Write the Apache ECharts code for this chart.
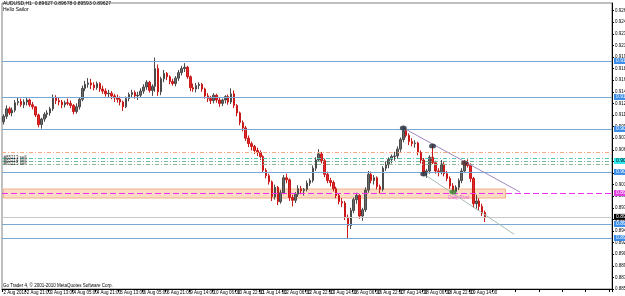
<!DOCTYPE html>
<html><head><meta charset="utf-8">
<script src="https://cdn.jsdelivr.net/npm/echarts@6/dist/echarts.min.js"></script>
<style>html,body{margin:0;padding:0;background:#fff}#c{width:625px;height:296px}</style>
</head><body><div id="c"></div>
<script>
// ---- data (AUDUSD, 2-hour bars) ----
const tickLabels = ['2 Aug 2010','2 Aug 21:00','3 Aug 13:00','4 Aug 05:00','4 Aug 21:00','5 Aug 13:00','6 Aug 05:00','6 Aug 21:00','9 Aug 14:00','10 Aug 06:00','10 Aug 22:00','11 Aug 14:00','12 Aug 06:00','12 Aug 22:00','13 Aug 14:00','16 Aug 06:00','16 Aug 22:00','17 Aug 14:00','18 Aug 06:00','18 Aug 22:00','19 Aug 14:00'];
const barsPerTick = 8;
const totalSlots = 209;

const open = [0.9102,0.9110,0.9121,0.9115,0.9119,0.9130,0.9132,0.9127,0.9131,0.9134,0.9127,0.9124,0.9112,0.9098,0.9106,0.9113,0.9115,0.9121,0.9137,0.9133,
0.9131,0.9127,0.9130,0.9129,0.9126,0.9117,0.9124,0.9135,0.9151,0.9157,0.9159,0.9156,0.9152,0.9158,0.9150,0.9147,0.9143,0.9144,0.9140,0.9137,
0.9135,0.9131,0.9124,0.9136,0.9142,0.9145,0.9140,0.9141,0.9147,0.9153,0.9160,0.9148,0.9154,0.9180,0.9146,0.9165,0.9173,0.9168,0.9161,0.9158,
0.9166,0.9174,0.9180,0.9182,0.9168,0.9152,0.9150,0.9155,0.9157,0.9150,0.9140,0.9136,0.9133,0.9141,0.9134,0.9129,0.9134,0.9139,0.9131,0.9143,
0.9126,0.9115,0.9101,0.9093,0.9078,0.9070,0.9066,0.9060,0.9057,0.9051,0.9031,0.9023,0.9014,0.8992,0.9006,0.8985,0.8998,0.9020,0.9017,0.8991,
0.8987,0.8996,0.9004,0.9001,0.9003,0.9012,0.9016,0.9034,0.9046,0.9055,0.9045,0.9025,0.9016,0.9013,0.9004,0.8994,0.8985,0.8983,0.8962,0.8950,
0.8972,0.8988,0.8994,0.8964,0.8973,0.9002,0.9025,0.9016,0.9020,0.9007,0.9003,0.9034,0.9039,0.9047,0.9051,0.9052,0.9062,0.9076,0.9089,0.9082,
0.9073,0.9070,0.9071,0.9057,0.9046,0.9027,0.9030,0.9050,0.9042,0.9030,0.9029,0.9040,0.9026,0.9019,0.9008,0.9000,0.9006,0.9016,0.9030,0.9042,
0.9038,0.9019,0.8982,0.8986,0.8978,0.8969];
const close = [0.9110,0.9121,0.9115,0.9119,0.9130,0.9132,0.9127,0.9131,0.9134,0.9127,0.9124,0.9112,0.9098,0.9106,0.9113,0.9115,0.9121,0.9137,0.9133,0.9131,
0.9127,0.9130,0.9129,0.9126,0.9117,0.9124,0.9135,0.9151,0.9157,0.9159,0.9156,0.9152,0.9158,0.9150,0.9147,0.9143,0.9144,0.9140,0.9137,0.9135,
0.9131,0.9124,0.9136,0.9142,0.9145,0.9140,0.9141,0.9147,0.9153,0.9160,0.9148,0.9154,0.9180,0.9146,0.9165,0.9173,0.9168,0.9161,0.9158,0.9166,
0.9174,0.9180,0.9182,0.9168,0.9152,0.9150,0.9155,0.9157,0.9150,0.9140,0.9136,0.9133,0.9141,0.9134,0.9129,0.9134,0.9139,0.9131,0.9143,0.9126,
0.9115,0.9101,0.9093,0.9078,0.9070,0.9066,0.9060,0.9057,0.9051,0.9031,0.9023,0.9014,0.8992,0.9006,0.8985,0.8998,0.9020,0.9017,0.8991,0.8987,
0.8996,0.9004,0.9001,0.9003,0.9012,0.9016,0.9034,0.9046,0.9055,0.9045,0.9025,0.9016,0.9013,0.9004,0.8994,0.8985,0.8983,0.8962,0.8950,0.8972,
0.8988,0.8994,0.8964,0.8973,0.9002,0.9025,0.9016,0.9020,0.9007,0.9003,0.9034,0.9039,0.9047,0.9051,0.9052,0.9062,0.9076,0.9089,0.9082,0.9073,
0.9070,0.9071,0.9057,0.9046,0.9027,0.9030,0.9050,0.9042,0.9030,0.9029,0.9040,0.9026,0.9019,0.9008,0.9000,0.9006,0.9016,0.9030,0.9042,0.9038,
0.9019,0.8982,0.8986,0.8978,0.8969,0.89627];
const low = [0.9098,0.9106,0.9112,0.9110,0.9116,0.9126,0.9124,0.9122,0.9126,0.9124,0.9120,0.9109,0.9094,0.9092,0.9102,0.9108,0.9111,0.9118,0.9128,0.9126,
0.9122,0.9123,0.9126,0.9122,0.9113,0.9114,0.9120,0.9132,0.9147,0.9152,0.9150,0.9148,0.9149,0.9146,0.9143,0.9139,0.9138,0.9135,0.9131,0.9130,
0.9126,0.9118,0.9122,0.9132,0.9138,0.9136,0.9134,0.9137,0.9143,0.9149,0.9145,0.9140,0.9146,0.9140,0.9141,0.9160,0.9163,0.9157,0.9155,0.9154,
0.9162,0.9170,0.9175,0.9165,0.9147,0.9146,0.9145,0.9150,0.9146,0.9136,0.9131,0.9128,0.9129,0.9130,0.9124,0.9125,0.9129,0.9127,0.9128,0.9122,
0.9110,0.9097,0.9088,0.9074,0.9065,0.9060,0.9055,0.9052,0.9046,0.9027,0.9019,0.9010,0.8986,0.8988,0.8980,0.8982,0.8996,0.9012,0.8986,0.8978,
0.8983,0.8992,0.8996,0.8994,0.9000,0.9008,0.9013,0.9030,0.9043,0.9041,0.9021,0.9012,0.9007,0.9000,0.8990,0.8981,0.8977,0.8958,0.8931,0.8945,
0.8968,0.8982,0.8960,0.8957,0.8970,0.8998,0.9012,0.9010,0.9003,0.8997,0.9000,0.9030,0.9034,0.9041,0.9045,0.9048,0.9058,0.9072,0.9079,0.9068,
0.9066,0.9064,0.9053,0.9041,0.9023,0.9020,0.9026,0.9040,0.9026,0.9022,0.9025,0.9022,0.9015,0.9004,0.8996,0.8996,0.9002,0.9012,0.9027,0.9035,
0.9014,0.8976,0.8975,0.8972,0.8964,0.8955];
const high = [0.9113,0.9126,0.9124,0.9123,0.9134,0.9138,0.9136,0.9135,0.9137,0.9136,0.9131,0.9125,0.9114,0.9108,0.9116,0.9119,0.9124,0.9142,0.9141,0.9138,
0.9134,0.9133,0.9136,0.9133,0.9128,0.9129,0.9138,0.9155,0.9162,0.9166,0.9165,0.9160,0.9161,0.9160,0.9155,0.9151,0.9149,0.9147,0.9143,0.9142,
0.9139,0.9133,0.9139,0.9145,0.9149,0.9148,0.9146,0.9151,0.9157,0.9163,0.9162,0.9157,0.9196,0.9186,0.9168,0.9178,0.9175,0.9170,0.9165,0.9169,
0.9178,0.9184,0.9188,0.9184,0.9170,0.9158,0.9159,0.9160,0.9159,0.9152,0.9144,0.9140,0.9144,0.9143,0.9137,0.9136,0.9141,0.9142,0.9151,0.9148,
0.9128,0.9117,0.9104,0.9096,0.9082,0.9073,0.9068,0.9064,0.9060,0.9053,0.9034,0.9026,0.9016,0.9010,0.9008,0.9002,0.9024,0.9026,0.9019,0.8995,
0.8999,0.9009,0.9008,0.9005,0.9016,0.9019,0.9038,0.9050,0.9062,0.9058,0.9048,0.9029,0.9020,0.9016,0.9007,0.8997,0.8990,0.8986,0.8966,0.8976,
0.8991,0.8998,0.8996,0.8976,0.9006,0.9030,0.9029,0.9024,0.9022,0.9010,0.9037,0.9044,0.9050,0.9054,0.9058,0.9066,0.9079,0.9095,0.9092,0.9085,
0.9078,0.9075,0.9073,0.9060,0.9049,0.9033,0.9053,0.9069,0.9045,0.9034,0.9046,0.9043,0.9030,0.9022,0.9012,0.9009,0.9019,0.9034,0.9046,0.9047,
0.9041,0.9021,0.8995,0.8990,0.8982,0.8972];

// horizontal levels
const blueLevels = [0.91911, 0.91384, 0.90915, 0.90285, 0.89523, 0.89317];
const orderLevels = [0.90490, 0.90446, 0.90402];
const orderNames = ['#85213 sell', '#85214 sell', '#85215 sell'];
const orangeLevel = 0.90578;
const pivotLevel = 0.89977;
const bidLevel = 0.89627;
const bandTop = 0.90035, bandBottom = 0.89903, bandEndBar = 172;
// trend lines and swing markers: [bar index, price]
const upperTrend = [[137, 0.9093], [177, 0.8999]];
const lowerTrend = [[144, 0.90255], [175, 0.89371]];
const swingPoints = [[137, 0.9093], [147, 0.90665], [144, 0.90255], [158, 0.90416], [154, 0.8999]];
const swingColors = ['#1e2a38', '#1e2a38', '#1e2a38', '#5a2a2a', '#3a8a3a'];
const pivotText = [[156, 0.8991]];

// ---- build ----
const cats = [];
for (let i = 0; i < totalSlots; i++) cats.push(String(i));
const candles = open.map((o, i) => [o, close[i], low[i], high[i]]);
const F = 'Liberation Sans, Arial, sans-serif';

function lvlLabel(bg, fg) {
  return {show: true, position: 'end', distance: 2, fontSize: 5, fontFamily: F,
    color: fg, backgroundColor: bg, padding: [1, 2, 0, 2],
    formatter: p => Number(p.value).toFixed(5)};
}
function hLine(v, color, type, label) {
  return {yAxis: v, lineStyle: {color: color, width: 1, type: type, opacity: 1}, label: label || {show: false}};
}
const levelLines = [];
blueLevels.forEach(v => levelLines.push(hLine(v, '#79a7d3', 'solid', lvlLabel('#3d8ee8', '#fff'))));
levelLines.push(hLine(orangeLevel, '#f0b080', [4, 2, 1, 2]));
const orderColors = ['#50c8b8', '#70b8a0', '#90b890'];
orderLevels.forEach((v, i) => levelLines.push(hLine(v, orderColors[i], [4, 2, 1, 2], i === 1 ? lvlLabel('#2ee6ee', '#000') : null)));
levelLines.push(hLine(bidLevel, '#c8c8c8', 'solid', lvlLabel('#000', '#fff')));

const chart = echarts.init(document.getElementById('c'), null, {renderer: 'canvas'});
chart.setOption({
  animation: false,
  backgroundColor: '#fff',
  title: [
    {text: 'AUDUSD,H1  0.89627 0.89678 0.89593 0.89627', left: 3, top: 1, padding: 0, textStyle: {fontSize: 5, fontWeight: 'normal', color: '#000', fontFamily: F}},
    {text: 'Hello Sailor', left: 3, top: 7, padding: 0, textStyle: {fontSize: 5, fontWeight: 'normal', color: '#000', fontFamily: F}},
    {text: 'Go Trader 4, © 2001-2010 MetaQuotes Software Corp.', left: 3, top: 283, padding: 0, textStyle: {fontSize: 4.5, fontWeight: 'normal', color: '#000', fontFamily: F}}
  ],
  grid: {left: 2, right: 13, top: 3, bottom: 7, outerBoundsMode: 'none', containLabel: false, show: true, borderColor: '#808080', borderWidth: 1},
  xAxis: {
    type: 'category', data: cats, boundaryGap: true,
    axisLine: {show: true, lineStyle: {color: '#000'}},
    axisTick: {show: true, interval: barsPerTick - 1, length: 3, lineStyle: {color: '#000'}},
    axisLabel: {interval: barsPerTick - 1, showMinLabel: true, hideOverlap: false, fontSize: 4.5, fontFamily: F, color: '#000', margin: 1, align: 'left',
      formatter: (v) => { const i = Number(v); return i % barsPerTick === 0 && tickLabels[i / barsPerTick] ? tickLabels[i / barsPerTick] : ''; }},
    splitLine: {show: false}
  },
  yAxis: {
    type: 'value', position: 'right', min: 0.8857, max: 0.92761, interval: 0.0017,
    axisLine: {show: true, lineStyle: {color: '#000'}},
    axisTick: {show: true, length: 2, lineStyle: {color: '#000'}},
    axisLabel: {fontSize: 4.5, fontFamily: F, color: '#000', margin: 3, showMaxLabel: false, hideOverlap: false, formatter: v => v.toFixed(5)},
    splitLine: {show: false}
  },
  series: [
    {
      type: 'candlestick', data: candles, barWidth: 2,
      itemStyle: {color: '#6a6a6a', color0: '#e02828', borderColor: '#4a4a4a', borderColor0: '#c81818', borderWidth: 1},
      markLine: {silent: true, symbol: 'none', precision: 5, z: 6, data: levelLines},
      markArea: {silent: true, z: 1, itemStyle: {color: 'rgba(250,190,150,0.55)', borderColor: '#f3b18a', borderWidth: 1},
        data: [[{xAxis: 0, yAxis: bandTop}, {xAxis: bandEndBar, yAxis: bandBottom}]]}
    },
    {
      // pivot line, trend lines and swing markers
      type: 'scatter', data: swingPoints.map((p, i) => ({value: p, itemStyle: {color: swingColors[i]}})),
      symbol: 'circle', symbolSize: [7, 5], z: 7,
      markLine: {silent: true, symbol: 'none', precision: 5, z: 7,
        data: [
          {yAxis: pivotLevel, lineStyle: {color: '#f030f0', width: 1, type: [6, 3]}, label: lvlLabel('#e040e0', '#fff')},
          [{coord: upperTrend[0], lineStyle: {color: '#a088c0', width: 1, type: 'solid'}, label: {show: false}}, {coord: upperTrend[1]}],
          [{coord: lowerTrend[0], lineStyle: {color: '#a8c0b8', width: 1, type: 'solid'}, label: {show: false}}, {coord: lowerTrend[1]}]
        ]}
    },
    {
      type: 'scatter', data: pivotText, symbolSize: 0, z: 8,
      label: {show: true, position: 'inside', formatter: 'Daily Pivot', fontSize: 4.5, color: '#e040e0', fontFamily: F}
    },
    {
      type: 'scatter', data: orderLevels.map((v, i) => [0, v]), symbolSize: 0, z: 8,
      label: {show: true, position: 'right', distance: 0, fontSize: 4.5, color: '#000', fontFamily: F,
        formatter: p => orderNames[p.dataIndex]}
    }
  ]
});
</script></body></html>
